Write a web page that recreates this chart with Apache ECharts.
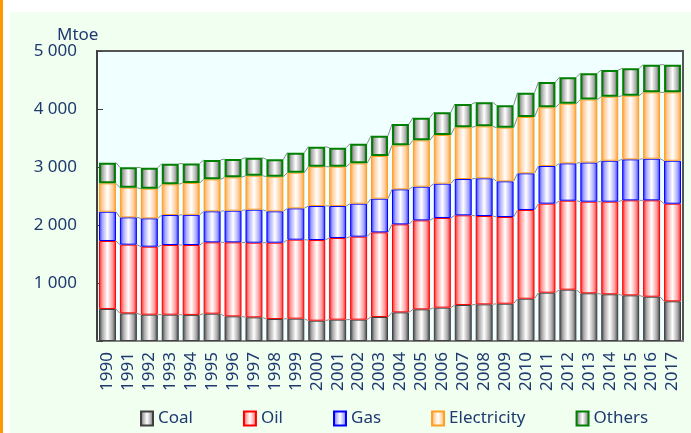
<!DOCTYPE html>
<html>
<head>
<meta charset="utf-8">
<script src="https://cdn.jsdelivr.net/npm/echarts@6/dist/echarts.min.js"></script>
<style>
html,body{margin:0;padding:0;background:#ffffff;}
#wrap{position:relative;width:691px;height:433px;overflow:hidden;}
#orange{position:absolute;left:0;top:0;width:3px;height:433px;background:#ff9900;}
#bg{position:absolute;left:10px;top:12px;width:681px;height:421px;background:#f0fff0;}
#chart{position:absolute;left:0;top:0;width:691px;height:433px;}
</style>
</head>
<body>
<div id="wrap"><div id="orange"></div><div id="bg"></div><div id="chart"></div></div>
<script>
const years = ['1990','1991','1992','1993','1994','1995','1996','1997','1998','1999','2000','2001','2002','2003','2004','2005','2006','2007','2008','2009','2010','2011','2012','2013','2014','2015','2016','2017'];
const coal        = [552, 477, 454, 454, 450, 471, 425, 408, 379, 385, 350, 368, 368, 414, 494, 546, 575, 621, 632, 643, 729, 833, 885, 822, 805, 787, 764, 684];
const oil         = [1172,1184,1172,1201,1205,1230,1276,1287,1316,1362,1391,1408,1431,1459,1517,1534,1546,1546,1523,1495,1530,1535,1534,1580,1597,1638,1661,1683];
const gas         = [505, 471, 489, 517, 520, 535, 546, 569, 541, 540, 587, 552, 569, 581, 604, 581, 592, 626, 650, 615, 632, 649, 644, 675, 706, 707, 718, 741];
const electricity = [489, 512, 511, 529, 550, 551, 575, 586, 597, 615, 677, 677, 695, 736, 758, 799, 839, 891, 896, 925, 971, 1012,1028,1086,1104,1097,1144,1179];
const others      = [357, 350, 362, 356, 335, 334, 316, 311, 299, 345, 345, 328, 339, 350, 368, 390, 390, 402, 414, 385, 419, 437, 455, 454, 460, 472, 477, 477];
const seriesNames = ['Coal','Oil','Gas','Electricity','Others'];
const yTicks = [0, 1000, 2000, 3000, 4000, 5000];

const navy = '#1f3a6e';
const FONT = 'Noto Sans';
const gapPct = 0.19;

function grad(edge, mid) {
  return {type:'linear', x:0, y:0, x2:1, y2:0, colorStops:[
    {offset:0, color:edge},{offset:0.2, color:mid},{offset:0.5, color:'#ffffff'},
    {offset:0.8, color:mid},{offset:1, color:edge}]};
}
const styles = [
  {color: grad('#3c3c3c','#a8a8a8'), borderColor:'#404040', borderWidth:1},
  {color: grad('#ff1a1a','#ff9c9c'), borderColor:'#ff0000', borderWidth:1},
  {color: grad('#2a2aff','#a8a8ff'), borderColor:'#0000ff', borderWidth:1},
  {color: grad('#ff9a30','#ffd0a0'), borderColor:'#ffa020', borderWidth:1},
  {color: grad('#404040','#a8a8a8'), borderColor:'#008000', borderWidth:2}
];
const dataArr = [coal, oil, gas, electricity, others];

// cumulative tops for series lines
const tops = [];
let acc = years.map(() => 0);
dataArr.forEach(arr => { acc = acc.map((v, i) => v + arr[i]); tops.push(acc.slice()); });

const barSeries = dataArr.map((arr, k) => ({
  name: seriesNames[k], type:'bar', stack:'total', data: arr,
  barCategoryGap: (gapPct*100) + '%',
  itemStyle: styles[k], emphasis:{disabled:true}, z: 3
}));

const connector = {
  type:'custom', name:'lines', silent:true, z:2,
  data: years.map((y, i) => [i]),
  renderItem: function(params, api) {
    const i = api.value(0);
    if (i >= years.length - 1) return null;
    const band = api.size([1, 0])[0];
    const half = band * (1 - gapPct) / 2;
    const children = [];
    for (let k = 0; k < tops.length; k++) {
      const p1 = api.coord([i, tops[k][i]]);
      const p2 = api.coord([i + 1, tops[k][i + 1]]);
      children.push({type:'line', shape:{x1:p1[0] + half, y1:p1[1], x2:p2[0] - half, y2:p2[1]},
        style:{stroke:'#8a8a8a', lineWidth:1}});
    }
    return {type:'group', children: children};
  }
};

const chart = echarts.init(document.getElementById('chart'), null, {renderer:'canvas'});
chart.setOption({
  backgroundColor:'transparent',
  animation:false,
  textStyle:{fontFamily:FONT},
  title:{text:'Mtoe', left:52, top:22, textStyle:{fontFamily:FONT, fontSize:17, fontWeight:'normal', color:navy}},
  grid:{left:97, right:8, top:51, bottom:92, show:true, backgroundColor:'#f0ffff', borderColor:'#555555', borderWidth:2},
  legend:{
    data: seriesNames, left:135, top:405, icon:'rect', itemWidth:12, itemHeight:14, itemGap:50,
    textStyle:{fontFamily:FONT, fontSize:17, color:navy}, selectedMode:false
  },
  xAxis:{
    type:'category', data: years, boundaryGap:true,
    axisLine:{lineStyle:{color:'#808080', width:2}},
    axisTick:{inside:true, length:5, lineStyle:{color:'#808080'}},
    axisLabel:{rotate:90, margin:11, fontSize:17, color:navy, fontFamily:FONT, interval:0}
  },
  yAxis:{
    type:'value', min:yTicks[0], max:yTicks[yTicks.length-1], interval:1000,
    splitLine:{show:false},
    axisLine:{show:true, lineStyle:{color:'#404040', width:2}},
    axisTick:{show:true, inside:true, length:6, lineStyle:{color:'#404040'}},
    axisLabel:{margin:20, fontSize:17, color:navy, fontFamily:FONT,
      formatter: v => v === 0 ? '' : (v/1000) + ' 000'}
  },
  series: barSeries.concat([connector])
});
</script>
</body>
</html>
